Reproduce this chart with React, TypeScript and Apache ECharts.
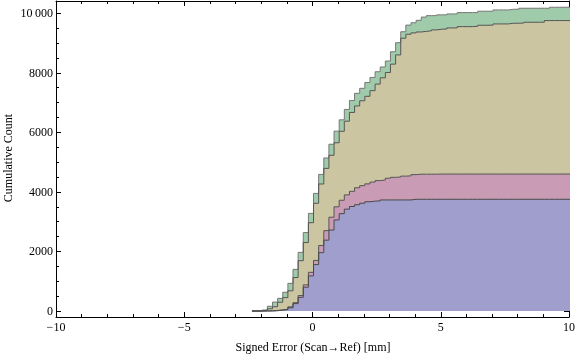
import React, { useEffect, useRef } from "react";
import * as echarts from "echarts";

// Histogram bins: width 0.2 mm, first edge near -2.36 mm
const binStart = -2.36;
const binWidth = 0.2;

// Cumulative counts (stacked tops) per bin
const blueTop = [
  0, 0, 0, 0, 10, 30, 50, 110, 250, 460,
  800, 1180, 1560, 1960, 2380, 2720, 3060, 3270, 3420, 3510,
  3570, 3620, 3670, 3690, 3700, 3730, 3730, 3730, 3730, 3730,
  3730, 3752, 3752, 3752, 3752, 3752, 3752, 3752, 3752, 3752,
  3752, 3752, 3752, 3752, 3752, 3752, 3752, 3752, 3752, 3752,
  3752, 3752, 3752, 3752, 3752, 3752, 3752, 3752, 3752, 3752,
  3752, 3752,
];
const pinkTop = [
  0, 0, 5, 10, 20, 40, 60, 140, 280, 520,
  880, 1300, 1700, 2200, 2700, 3150, 3500, 3720, 3900, 4020,
  4140, 4210, 4270, 4330, 4380, 4400, 4460, 4490, 4500, 4530,
  4540, 4580, 4595, 4595, 4595, 4595, 4600, 4600, 4600, 4600,
  4600, 4600, 4600, 4600, 4600, 4600, 4600, 4600, 4600, 4600,
  4600, 4600, 4600, 4600, 4600, 4600, 4600, 4600, 4600, 4600,
  4600, 4600,
];
const tanTop = [
  0, 5, 25, 75, 145, 295, 450, 680, 1125, 1690,
  2300, 2966, 3618, 4266, 4790, 5230, 5650, 6035, 6375, 6668,
  6886, 7060, 7210, 7400, 7620, 7830, 8010, 8290, 8600, 9160,
  9294, 9340, 9370, 9390, 9410, 9440, 9462, 9470, 9506, 9506,
  9550, 9550, 9550, 9560, 9596, 9596, 9600, 9640, 9640, 9640,
  9663, 9663, 9670, 9697, 9697, 9697, 9700, 9753, 9753, 9753,
  9753, 9753,
];
const greenTop = [
  0, 10, 34, 160, 300, 426, 630, 930, 1400, 1970,
  2635, 3279, 3950, 4587, 5140, 5600, 6040, 6420, 6770, 7070,
  7310, 7478, 7672, 7843, 8035, 8195, 8395, 8706, 9010, 9378,
  9600, 9680, 9760, 9870, 9918, 9918, 9945, 9945, 9976, 9976,
  10020, 10020, 10020, 10020, 10067, 10067, 10067, 10110, 10110, 10110,
  10133, 10133, 10167, 10167, 10167, 10167, 10167, 10167, 10200, 10200,
  10200, 10200,
];

const yMajorTicks = [0, 2000, 4000, 6000, 8000, 10000];
const yMinorTicks = [500, 1000, 1500, 2500, 3000, 3500, 4500, 5000, 5500, 6500, 7000, 7500, 8500, 9000, 9500];

const xTitle = "Signed Error (Scan\u2192Ref) [mm]";
const yTitle = "Cumulative Count";

const FONT = '"Liberation Serif", "Times New Roman", serif';

function toSteps(values: number[]): number[][] {
  const pts: number[][] = [[binStart, 0]];
  values.forEach((v, i) => pts.push([binStart + binWidth * (i + 1), v]));
  return pts;
}

export default function App() {
  const ref = useRef<HTMLDivElement>(null);
  useEffect(() => {
    if (!ref.current) return;
    const chart = echarts.init(ref.current, null, { renderer: "svg" });
    const yMin = -200;
    const yMax = 10410;
    const xBase = {
      type: "value",
      min: -10,
      max: 10,
      interval: 5,
      splitLine: { show: false },
      axisLine: { show: true, onZero: false, lineStyle: { color: "#000", width: 1 } },
      axisTick: { show: true, inside: true, length: 5, lineStyle: { color: "#000" } },
      minorTick: { show: true, splitNumber: 5, length: 3, lineStyle: { color: "#000" } },
    };
    const yBase = (pos: string, ticks: number[], len: number, labels: boolean, line: boolean) => ({
      type: "value",
      min: yMin,
      max: yMax,
      position: pos,
      splitLine: { show: false },
      axisLine: { show: line, onZero: false, lineStyle: { color: "#000", width: 1 } },
      axisTick: { show: true, inside: true, length: len, customValues: ticks, lineStyle: { color: "#000" } },
      axisLabel: labels
        ? {
            show: true,
            customValues: ticks,
            margin: 3,
            color: "#000",
            fontFamily: FONT,
            fontSize: 12,
            formatter: (v: number) => (v === 10000 ? "10\u2009000" : String(v)),
          }
        : { show: false },
    });
    const mkSeries = (name: string, data: number[], fill: string, line: string) => ({
      name,
      type: "line",
      step: "start",
      data: toSteps(data),
      showSymbol: false,
      symbol: "none",
      xAxisIndex: 0,
      yAxisIndex: 0,
      lineStyle: { color: line, width: 1 },
      areaStyle: { color: fill, opacity: 1 },
      emphasis: { disabled: true },
    });
    chart.setOption({
      animation: false,
      grid: { left: 56, right: 7, top: 1, bottom: 40, containLabel: false, outerBoundsMode: "none" },
      xAxis: [
        {
          ...xBase,
          position: "bottom",
          axisLabel: {
            show: true,
            margin: 4,
            color: "#000",
            fontFamily: FONT,
            fontSize: 12,
            formatter: (v: number) => String(v).replace("-", "\u2212"),
          },
        },
        { ...xBase, position: "top", axisLabel: { show: false } },
      ],
      yAxis: [
        yBase("left", yMajorTicks, 5, true, true),
        yBase("left", yMinorTicks, 3, false, false),
        yBase("right", yMajorTicks, 5, false, true),
        yBase("right", yMinorTicks, 3, false, false),
      ],
      series: [
        mkSeries("d4", greenTop, "#a0cbab", "#777777"),
        mkSeries("d3", tanTop, "#cbc6a1", "#555555"),
        mkSeries("d2", pinkTop, "#c99bb5", "#555555"),
        mkSeries("d1", blueTop, "#9f9ecc", "#4a4a4a"),
      ],
      graphic: [
        {
          type: "text",
          x: 313,
          y: 347,
          style: { text: xTitle, font: `12px ${FONT}`, fill: "#000", align: "center", verticalAlign: "middle" },
        },
        {
          type: "text",
          x: 8,
          y: 158,
          rotation: Math.PI / 2,
          style: { text: yTitle, font: `12px ${FONT}`, fill: "#000", align: "center", verticalAlign: "middle" },
        },
      ],
    });
    return () => chart.dispose();
  }, []);
  return <div ref={ref} style={{ position: "fixed", left: 0, top: 0, width: 576, height: 357 }} />;
}
